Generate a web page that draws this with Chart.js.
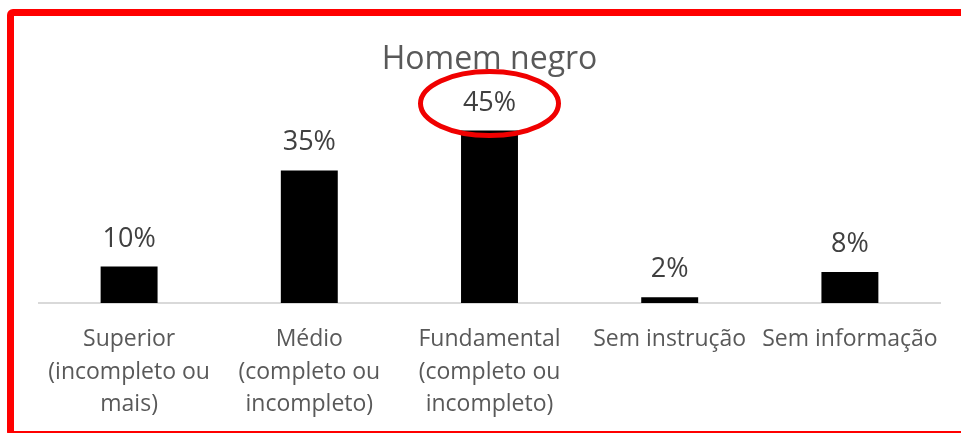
<!DOCTYPE html>
<html>
<head>
<meta charset="utf-8">
<script src="https://cdn.jsdelivr.net/npm/chart.js@4.4.1/dist/chart.umd.min.js"></script>
<style>
    html, body { margin: 0; padding: 0; background: #fff; overflow: hidden; }
    #wrap { position: relative; width: 961px; height: 433px; }
    #frame {
        position: absolute; left: 7px; top: 9px;
        width: 1000px; height: 415px;
        border: 7px solid #ff0000; border-radius: 6px;
        pointer-events: none;
    }
</style>
</head>
<body>
<div id="wrap">
    <canvas id="chart" width="961" height="433"></canvas>
    <div id="frame"></div>
</div>
<script>
// categorias (eixo x)
var categories = [
    ['Superior', '(incompleto ou', 'mais)'],
    ['Médio', '(completo ou', 'incompleto)'],
    ['Fundamental', '(completo ou', 'incompleto)'],
    ['Sem instrução'],
    ['Sem informação']
];
// percentuais
var values = [9.5, 34.6, 45.0, 1.5, 8.1];
var valueLabels = ['10%', '35%', '45%', '2%', '8%'];
var highlightIndex = 2;

var textGray = '#595959';

// rótulos em cima das barras
var barLabels = {
    id: 'barLabels',
    afterDatasetsDraw: function (chart) {
        var ctx = chart.ctx;
        var meta = chart.getDatasetMeta(0);
        ctx.save();
        ctx.font = '27px "Open Sans"';
        ctx.fillStyle = '#404040';
        ctx.textAlign = 'center';
        ctx.textBaseline = 'alphabetic';
        for (var i = 0; i < meta.data.length; i++) {
            var bar = meta.data[i];
            ctx.fillText(valueLabels[i], bar.x, bar.y - 20);
        }
        ctx.restore();
    },
    afterDraw: function (chart) {
        // elipse vermelha em volta do maior valor
        var bar = chart.getDatasetMeta(0).data[highlightIndex];
        var ctx = chart.ctx;
        ctx.save();
        ctx.strokeStyle = '#f00000';
        ctx.lineWidth = 5;
        ctx.beginPath();
        ctx.ellipse(bar.x, bar.y - 27, 69, 32, 0, 0, Math.PI * 2);
        ctx.stroke();
        ctx.restore();
    }
};

new Chart(document.getElementById('chart'), {
    type: 'bar',
    data: {
        labels: categories,
        datasets: [{
            data: values,
            backgroundColor: '#000000',
            categoryPercentage: 1,
            barPercentage: 0.316
        }]
    },
    options: {
        responsive: false,
        animation: false,
        layout: { padding: { left: 39, right: 21, top: 0, bottom: 12 } },
        plugins: {
            legend: { display: false },
            tooltip: { enabled: false },
            title: {
                display: true,
                text: 'Homem negro',
                color: textGray,
                font: { family: 'Open Sans', size: 32, weight: 'normal', lineHeight: 1.2 },
                padding: { top: 41, bottom: 32 }
            }
        },
        scales: {
            x: {
                grid: { display: false, drawTicks: false },
                border: { display: true, color: '#d9d9d9', width: 2 },
                ticks: {
                    color: textGray,
                    padding: 20,
                    maxRotation: 0,
                    autoSkip: false,
                    font: { family: 'Open Sans', size: 23, lineHeight: 1.42 }
                },
                afterFit: function (scale) {
                    scale.height = 118;
                }
            },
            y: {
                display: false,
                min: 0,
                max: 50
            }
        }
    },
    plugins: [barLabels]
});
</script>
</body>
</html>
